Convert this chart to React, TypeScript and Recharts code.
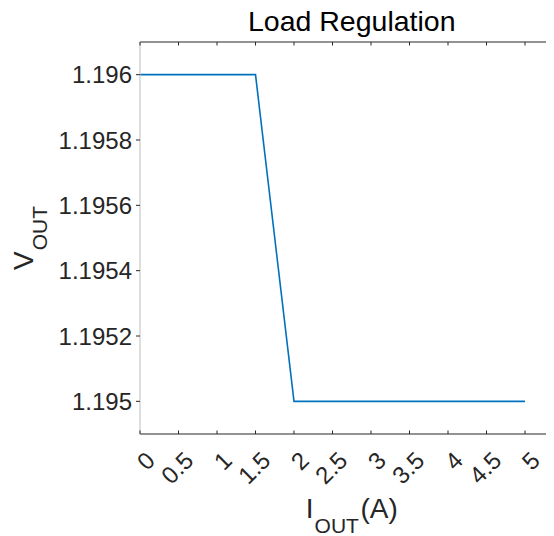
import React from "react";
import { LineChart, Line, XAxis, YAxis, Label } from "recharts";

const currents = [0, 0.5, 1, 1.5, 2, 2.5, 3, 3.5, 4, 4.5, 5];
const vout = [1.196, 1.196, 1.196, 1.196, 1.195, 1.195, 1.195, 1.195, 1.195, 1.195, 1.195];
const xTicks = [0, 0.5, 1, 1.5, 2, 2.5, 3, 3.5, 4, 4.5, 5];
const yTicks = [1.195, 1.1952, 1.1954, 1.1956, 1.1958, 1.196];
const xDomain = [0, 5.5];
const yDomain = [1.1949, 1.1961];

const data = currents.map((c, i) => ({ i: c, v: vout[i] }));

const FONT = "'Liberation Sans', Arial, Helvetica, sans-serif";
const DARK = "#262626";

const fmtY = (v: number) => v.toFixed(4).replace(/0+$/, "").replace(/\.$/, "");
const fmtX = (v: number) => String(v);

const BottomTick = (props: any) => {
  const { x, y, payload } = props;
  const ax = x + 10.5;
  const ay = y + 22;
  return (
    <g>
      <line x1={x} x2={x} y1={y} y2={y - 3.5} stroke={DARK} strokeWidth={1} />
      <text
        x={ax}
        y={ay}
        transform={`rotate(-45, ${ax}, ${ay})`}
        textAnchor="end"
        dy="0.35em"
        fontSize={24}
        fontFamily={FONT}
        fill={DARK}
      >
        {fmtX(payload.value)}
      </text>
    </g>
  );
};

const TopTick = (props: any) => {
  const { x, y } = props;
  return <line x1={x} x2={x} y1={y} y2={y + 3.5} stroke={DARK} strokeWidth={1} />;
};

const XLabelContent = (props: any) => {
  const vb = props.viewBox || {};
  const cx = vb.x + vb.width / 2;
  const by = vb.y + 84;
  return (
    <text x={cx} y={by} textAnchor="middle" fontFamily={FONT} fill={DARK} fontSize={28}>
      <tspan>I</tspan>
      <tspan fontSize={21} dx={1} dy={15}>OUT</tspan>
      <tspan dx={1.5} dy={-15}>(A)</tspan>
    </text>
  );
};

const YLabelContent = (props: any) => {
  const vb = props.viewBox || {};
  const cy = vb.y + vb.height / 2;
  const bx = 25;
  return (
    <text
      x={bx}
      y={cy}
      transform={`rotate(-90, ${bx}, ${cy})`}
      textAnchor="middle"
      fontFamily={FONT}
      fill={DARK}
      fontSize={28}
    >
      <tspan>V</tspan>
      <tspan fontSize={21} dx={1} dy={14}>OUT</tspan>
    </text>
  );
};

const TitleContent = (props: any) => {
  const vb = props.viewBox || {};
  const cx = vb.x + vb.width / 2;
  return (
    <text x={cx} y={22.7} textAnchor="middle" fontFamily={FONT} fill="#000" fontSize={28.5}>
      Load Regulation
    </text>
  );
};

export default function App() {
  return (
    <div style={{ width: 546, height: 528, overflow: "hidden" }}>
      <LineChart
        width={570}
        height={528}
        data={data}
        margin={{ top: 33, right: 14.5, bottom: 0, left: 0 }}
      >
        <XAxis
          xAxisId="t"
          orientation="top"
          dataKey="i"
          type="number"
          domain={xDomain}
          ticks={xTicks}
          height={1}
          tickSize={0}
          tickMargin={0}
          tickLine={false}
          axisLine={{ stroke: DARK, strokeWidth: 1 }}
          tick={<TopTick />}
          interval={0}
          allowDataOverflow
        >
          <Label content={<TitleContent />} />
        </XAxis>
        <XAxis
          xAxisId="b"
          orientation="bottom"
          dataKey="i"
          type="number"
          domain={xDomain}
          ticks={xTicks}
          height={102}
          tickSize={0}
          tickMargin={0}
          tickLine={false}
          axisLine={{ stroke: DARK, strokeWidth: 1 }}
          tick={<BottomTick />}
          interval={0}
          allowDataOverflow
        >
          <Label content={<XLabelContent />} />
        </XAxis>
        <YAxis
          yAxisId="l"
          type="number"
          domain={yDomain}
          ticks={yTicks}
          width={132}
          tickSize={4}
          tickMargin={4}
          tickLine={{ stroke: DARK, strokeWidth: 1 }}
          axisLine={{ stroke: "#bdbdbd", strokeWidth: 1 }}
          tick={{ fontSize: 24, fontFamily: FONT, fill: DARK }}
          tickFormatter={fmtY}
          interval={0}
          allowDataOverflow
        >
          <Label content={<YLabelContent />} />
        </YAxis>
        <Line
          xAxisId="b"
          yAxisId="l"
          dataKey="v"
          type="linear"
          stroke="#0072BD"
          strokeWidth={1.6}
          dot={false}
          isAnimationActive={false}
        />
      </LineChart>
    </div>
  );
}
